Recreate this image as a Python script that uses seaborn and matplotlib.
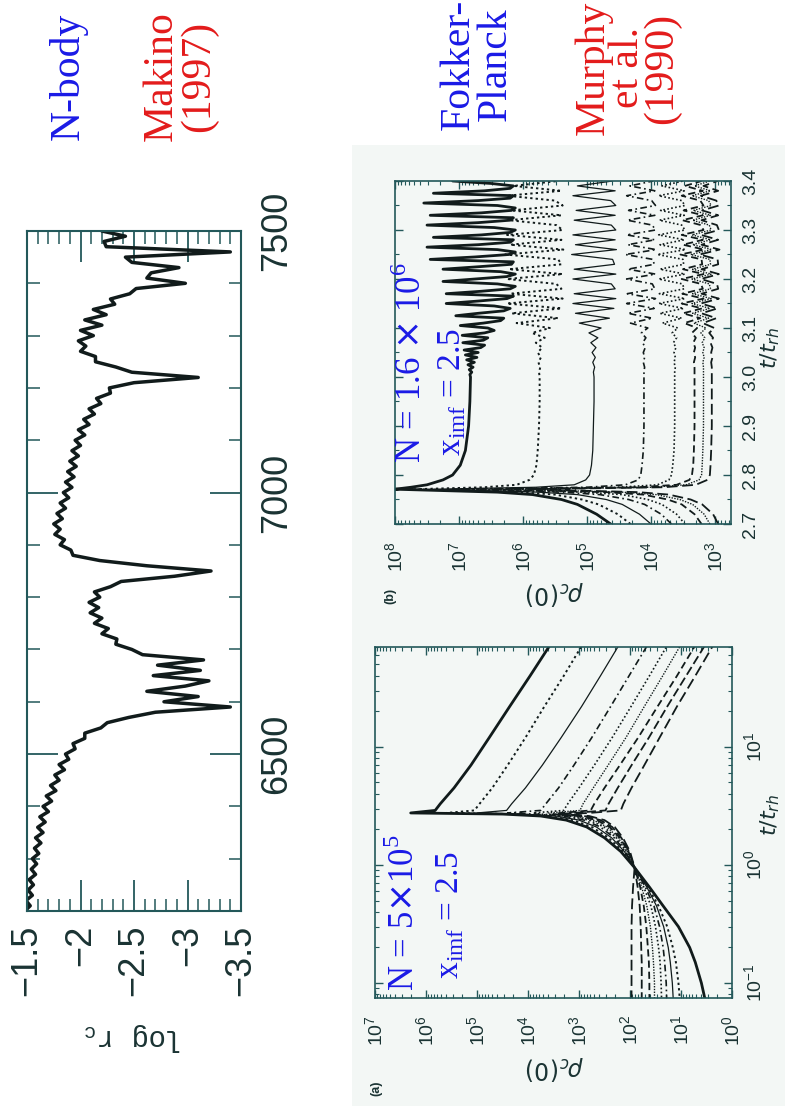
import numpy as np
import matplotlib
matplotlib.use("Agg")
import matplotlib.pyplot as plt
from matplotlib.patches import Rectangle
from matplotlib.ticker import (FixedLocator, FixedFormatter, MultipleLocator,
                               LogLocator, NullFormatter)
import seaborn as sns

# ---------------------------------------------------------------------------
# N-body core radius history (Makino 1997)
# ---------------------------------------------------------------------------
nbody_time = np.arange(6200, 7501, 10)
nbody_log_rc = [
    -1.48, -1.53, -1.49, -1.55, -1.51, -1.56, -1.52, -1.58, -1.54, -1.59,
    -1.55, -1.61, -1.57, -1.63, -1.58, -1.65, -1.60, -1.67, -1.62, -1.70,
    -1.65, -1.73, -1.68, -1.77, -1.72, -1.80, -1.76, -1.85, -1.80, -1.89,
    -1.86, -1.95, -1.93, -2.04, -2.04, -2.19, -2.25, -2.45, -2.70, -3.40,
    -2.78, -3.10, -2.62, -2.98, -3.20, -2.68, -3.12, -2.72, -3.15, -2.58,
    -2.48, -2.33, -2.34, -2.20, -2.26, -2.13, -2.20, -2.09, -2.17, -2.08,
    -2.18, -2.13, -2.28, -2.38, -2.88, -3.22, -2.62, -2.18, -1.93, -1.91,
    -1.81, -1.85, -1.76, -1.81, -1.75, -1.83, -1.78, -1.86, -1.81, -1.89,
    -1.84, -1.92, -1.86, -1.94, -1.88, -1.96, -1.90, -1.98, -1.92, -2.00,
    -1.95, -2.04, -1.98, -2.08, -2.03, -2.13, -2.08, -2.19, -2.15, -2.28,
    -2.27, -2.50, -3.10, -2.48, -2.33, -2.14, -2.14, -2.00, -2.05, -1.98,
    -2.12, -2.00, -2.20, -2.04, -2.24, -2.12, -2.32, -2.28, -2.46, -2.52,
    -2.98, -2.62, -2.66, -2.92, -2.48, -2.42, -3.40, -2.24, -2.22, -2.42,
    -2.20,
]
nbody_rc_ticks = [-1.5, -2.0, -2.5, -3.0, -3.5]
nbody_rc_ticklabels = ["\u22121.5", "\u22122", "\u22122.5", "\u22123", "\u22123.5"]
nbody_time_ticks = [6500, 7000, 7500]

# ---------------------------------------------------------------------------
# Fokker-Planck (a): N = 5e5, central density of each mass group, log10 rho
# ---------------------------------------------------------------------------
fpa_time_pre = [0.07, 0.1, 0.15, 0.2, 0.3, 0.45, 0.65, 0.95, 1.3, 1.7, 2.1, 2.4, 2.6, 2.7]
fpa_rho_pre = [
    [0.52, 0.60, 0.72, 0.83, 1.05, 1.35, 1.62, 1.91, 2.18, 2.50, 2.85, 3.25, 3.75, 4.50],
    [1.02, 1.05, 1.10, 1.16, 1.27, 1.44, 1.65, 1.91, 2.14, 2.42, 2.75, 3.12, 3.60, 4.30],
    [1.15, 1.17, 1.21, 1.25, 1.34, 1.48, 1.67, 1.91, 2.11, 2.36, 2.66, 3.00, 3.45, 4.10],
    [1.28, 1.29, 1.32, 1.35, 1.42, 1.53, 1.70, 1.91, 2.09, 2.31, 2.58, 2.90, 3.30, 3.90],
    [1.38, 1.39, 1.41, 1.44, 1.50, 1.59, 1.73, 1.91, 2.07, 2.27, 2.51, 2.80, 3.20, 3.75],
    [1.52, 1.52, 1.54, 1.56, 1.60, 1.67, 1.77, 1.91, 2.05, 2.23, 2.45, 2.72, 3.10, 3.60],
    [1.62, 1.62, 1.63, 1.65, 1.68, 1.73, 1.80, 1.91, 2.03, 2.20, 2.40, 2.65, 3.00, 3.50],
    [1.77, 1.77, 1.77, 1.78, 1.79, 1.81, 1.85, 1.91, 2.02, 2.17, 2.35, 2.58, 2.90, 3.40],
    [1.97, 1.97, 1.97, 1.97, 1.97, 1.96, 1.94, 1.91, 2.00, 2.14, 2.30, 2.50, 2.80, 3.30],
]
fpa_time_post = [2.76, 2.9, 3.3, 4.5, 7.0, 12.0, 22.0, 40.0, 75.0]
fpa_rho_post = [
    [6.30, 5.82, 5.72, 5.45, 5.12, 4.76, 4.36, 3.96, 3.55],
    [5.60, 5.05, 4.95, 4.70, 4.40, 4.05, 3.68, 3.30, 2.92],
    [5.00, 4.42, 4.32, 4.05, 3.72, 3.35, 2.95, 2.58, 2.20],
    [4.40, 3.75, 3.65, 3.40, 3.10, 2.75, 2.38, 2.02, 1.64],
    [3.90, 3.30, 3.22, 3.00, 2.70, 2.35, 1.98, 1.62, 1.25],
    [3.60, 2.98, 2.92, 2.72, 2.43, 2.08, 1.72, 1.36, 0.99],
    [3.35, 2.77, 2.70, 2.50, 2.20, 1.84, 1.46, 1.08, 0.70],
    [3.10, 2.48, 2.42, 2.24, 1.97, 1.63, 1.27, 0.90, 0.51],
    [2.80, 2.18, 2.13, 1.97, 1.72, 1.42, 1.08, 0.72, 0.35],
]

# ---------------------------------------------------------------------------
# Fokker-Planck (b): N = 1.6e6, gravothermal oscillations, log10 rho
# ---------------------------------------------------------------------------
fpb_time_pre = [2.70, 2.72, 2.74, 2.75, 2.76, 2.765, 2.771]
fpb_rho_pre = [
    [4.63, 4.85, 5.15, 5.40, 5.85, 6.40, 8.00],
    [4.32, 4.52, 4.82, 5.08, 5.50, 6.10, 7.70],
    [4.00, 4.18, 4.45, 4.70, 5.15, 5.75, 7.40],
    [3.68, 3.84, 4.10, 4.35, 4.80, 5.40, 7.10],
    [3.47, 3.60, 3.83, 4.05, 4.45, 5.05, 6.80],
    [3.21, 3.32, 3.52, 3.74, 4.12, 4.70, 6.50],
    [3.08, 3.17, 3.35, 3.55, 3.92, 4.45, 6.20],
    [2.95, 3.03, 3.20, 3.38, 3.72, 4.20, 5.90],
]
fpb_time_relax = [2.775, 2.78, 2.79, 2.80, 2.82, 2.85, 2.90, 2.95]
fpb_rho_relax = [
    [7.75, 7.50, 7.25, 7.10, 6.98, 6.90, 6.85, 6.83],
    [6.60, 6.10, 5.90, 5.83, 5.79, 5.77, 5.75, 5.74],
    [5.80, 5.20, 5.02, 4.96, 4.93, 4.91, 4.90, 4.89],
    [5.00, 4.40, 4.20, 4.16, 4.14, 4.12, 4.11, 4.11],
    [4.50, 3.90, 3.72, 3.68, 3.66, 3.64, 3.63, 3.63],
    [4.20, 3.60, 3.40, 3.36, 3.34, 3.33, 3.32, 3.32],
    [4.00, 3.45, 3.25, 3.21, 3.20, 3.19, 3.18, 3.18],
    [3.80, 3.30, 3.12, 3.08, 3.07, 3.06, 3.05, 3.05],
]
# heaviest group, sampled every 0.005 from 3.000 to 3.400
fpb_time_fine = np.round(np.arange(3.0, 3.4001, 0.005), 3)
fpb_rho_heavy = [
    6.82, 6.83, 6.80, 6.84, 6.78, 6.86, 6.76, 6.88, 6.72, 6.90,
    6.70, 6.92, 6.66, 6.60, 6.94, 6.62, 6.55, 6.95, 6.60, 6.45,
    6.55, 6.98, 6.62, 6.35, 6.30, 7.05, 6.70, 6.30, 6.20, 6.45,
    7.20, 6.70, 6.25, 6.15, 7.20, 6.65, 6.20, 6.12, 6.40, 7.25,
    6.75, 6.25, 6.12, 6.35, 7.25, 6.70, 6.18, 6.15, 7.45, 6.75,
    6.22, 6.12, 6.40, 7.50, 6.70, 6.20, 6.15, 7.40, 6.65, 6.20,
    6.12, 6.45, 7.50, 6.70, 6.20, 6.15, 7.45, 6.65, 6.18, 6.12,
    6.40, 7.55, 6.70, 6.20, 6.15, 7.40, 6.60, 6.20, 6.15, 6.50,
    7.10,
]
# lighter groups, sampled every 0.01 from 3.00 to 3.40
fpb_time_coarse = np.round(np.arange(3.0, 3.4001, 0.01), 2)
fpb_rho_light = [
    [5.74, 5.75, 5.73, 5.76, 5.72, 5.77, 5.70, 5.80, 5.66, 5.86, 5.58, 6.10, 5.45, 6.18,
     5.40, 6.25, 5.38, 6.20, 5.40, 5.48, 6.25, 5.38, 6.22, 5.40, 5.45, 6.28, 5.37, 6.20,
     5.40, 6.25, 5.38, 5.48, 6.22, 5.40, 6.18, 5.38, 5.50, 6.25, 5.40, 6.15, 5.45],
    [4.89, 4.90, 4.88, 4.91, 4.87, 4.92, 4.86, 4.94, 4.83, 4.97, 4.78, 5.12, 4.65, 5.18,
     4.58, 5.22, 4.55, 5.20, 4.56, 4.62, 5.22, 4.55, 5.20, 4.57, 4.60, 5.24, 4.54, 5.18,
     4.56, 5.22, 4.55, 4.62, 5.20, 4.56, 5.17, 4.55, 4.63, 5.22, 4.56, 5.15, 4.60],
    [4.11, 4.11, 4.10, 4.12, 4.10, 4.12, 4.09, 4.13, 4.08, 4.15, 4.05, 4.32, 3.98, 4.36,
     3.95, 4.38, 3.93, 4.37, 3.94, 3.98, 4.38, 3.93, 4.36, 3.95, 3.97, 4.40, 3.92, 4.36,
     3.94, 4.38, 3.93, 3.98, 4.37, 3.94, 4.35, 3.93, 3.99, 4.38, 3.94, 4.33, 3.97],
    [3.63, 3.63, 3.62, 3.64, 3.62, 3.64, 3.61, 3.65, 3.60, 3.67, 3.58, 3.82, 3.52, 3.86,
     3.49, 3.88, 3.47, 3.87, 3.48, 3.51, 3.88, 3.47, 3.86, 3.49, 3.50, 3.90, 3.46, 3.86,
     3.48, 3.88, 3.47, 3.52, 3.87, 3.48, 3.85, 3.47, 3.52, 3.88, 3.48, 3.83, 3.50],
    [3.32, 3.32, 3.32, 3.33, 3.31, 3.33, 3.31, 3.34, 3.30, 3.36, 3.28, 3.48, 3.23, 3.50,
     3.20, 3.52, 3.18, 3.51, 3.19, 3.22, 3.52, 3.18, 3.50, 3.20, 3.21, 3.54, 3.17, 3.50,
     3.19, 3.52, 3.18, 3.22, 3.51, 3.19, 3.49, 3.18, 3.23, 3.52, 3.19, 3.47, 3.21],
    [3.18, 3.18, 3.18, 3.19, 3.17, 3.19, 3.17, 3.20, 3.16, 3.22, 3.14, 3.33, 3.10, 3.35,
     3.08, 3.36, 3.06, 3.35, 3.07, 3.09, 3.36, 3.06, 3.35, 3.07, 3.08, 3.38, 3.05, 3.35,
     3.07, 3.36, 3.06, 3.09, 3.35, 3.07, 3.34, 3.06, 3.10, 3.36, 3.07, 3.32, 3.08],
    [3.05, 3.05, 3.05, 3.06, 3.04, 3.06, 3.04, 3.07, 3.03, 3.09, 3.01, 3.19, 2.98, 3.21,
     2.96, 3.22, 2.94, 3.21, 2.95, 2.97, 3.22, 2.94, 3.21, 2.95, 2.96, 3.24, 2.93, 3.21,
     2.95, 3.22, 2.94, 2.97, 3.21, 2.95, 3.20, 2.94, 2.98, 3.22, 2.95, 3.18, 2.96],
]
fpb_time_ticks = [2.7, 2.8, 2.9, 3.0, 3.1, 3.2, 3.3, 3.4]
fpb_time_ticklabels = ["2.7", "2.8", "2.9", "3.0", "3.1", "3.2", "3.3", "3.4"]

# ---------------------------------------------------------------------------
# styling
# ---------------------------------------------------------------------------
sns.set_theme(style="ticks")
plt.rcParams["font.family"] = ["Liberation Sans", "DejaVu Sans"]
SERIF = "Liberation Serif"
MONO = "Liberation Mono"
INK = "#111b1b"
FRAME = "#23585a"
LABEL = "#1a3333"
PAPER = "#f3f7f5"
BLUE = "#1a1ae6"
RED = "#e31b1b"

group_styles = [
    dict(lw=2.0, ls="-"),
    dict(lw=1.4, ls=(0, (1.2, 1.6))),
    dict(lw=0.9, ls="-"),
    dict(lw=1.2, ls=(0, (4, 2, 1, 2))),
    dict(lw=1.2, ls=(0, (1, 1.4))),
    dict(lw=1.0, ls=(0, (1, 1))),
    dict(lw=1.3, ls=(0, (4, 2.2))),
    dict(lw=1.3, ls=(0, (5, 2))),
    dict(lw=1.3, ls=(0, (6, 2.5))),
]

W, H = 785, 1106
fig = plt.figure(figsize=(W / 100, H / 100), dpi=100)


def fxy(x, y):
    return x / W, 1 - y / H


def place(x0, y0, x1, y1):
    return fig.add_axes([x0 / W, 1 - y1 / H, (x1 - x0) / W, (y1 - y0) / H])


def frame(ax, lw):
    for s in ax.spines.values():
        s.set_visible(True)
        s.set_color(FRAME)
        s.set_linewidth(lw)
    ax.tick_params(which="both", direction="in", top=True, bottom=True,
                   left=True, right=True, labelleft=False, labelright=True,
                   labelbottom=True, labeltop=False, color=FRAME,
                   labelcolor=LABEL)
    ax.set_xlabel("")
    ax.set_ylabel("")


def trace(ax, x, y, style):
    sns.lineplot(x=x, y=y, sort=False, estimator=None, ax=ax, color=INK,
                 legend=False, **style)


# tinted panel area on the right
fig.add_artist(Rectangle(fxy(352, H), (W - 352) / W, (H - 145) / H,
                         transform=fig.transFigure, facecolor=PAPER,
                         edgecolor="none", zorder=-5))

# ---------------- N-body panel ----------------
ax0 = place(27, 231, 241, 911)
trace(ax0, nbody_log_rc, nbody_time, dict(lw=2.5, ls="-"))
ax0.set_xlim(-1.5, -3.5)
ax0.set_ylim(6200, 7500)
ax0.xaxis.set_major_locator(FixedLocator(nbody_rc_ticks))
ax0.xaxis.set_major_formatter(FixedFormatter(nbody_rc_ticklabels))
ax0.xaxis.set_minor_locator(MultipleLocator(0.1))
ax0.yaxis.set_major_locator(FixedLocator(nbody_time_ticks))
ax0.yaxis.set_minor_locator(MultipleLocator(100))
frame(ax0, 1.5)
ax0.tick_params(which="major", length=22, width=1.3)
ax0.tick_params(which="minor", length=9, width=1.1)
ax0.tick_params(axis="x", labelrotation=90, labelsize=26, pad=10)
ax0.tick_params(axis="y", labelrotation=90, labelsize=26, pad=13)
plt.setp(ax0.get_yticklabels(), va="center")
fig.text(*fxy(134, 1037), r"log r$_\mathregular{c}$", rotation=180,
         fontfamily=MONO, fontsize=21, color=LABEL, ha="center", va="center")

# ---------------- Fokker-Planck (a) ----------------
axa = place(375, 647, 732, 998)
axa.set_facecolor(PAPER)
axa.set_xscale("log")
axa.set_yscale("log")
for k in range(len(fpa_rho_pre)):
    t = np.concatenate([fpa_time_pre, fpa_time_post])
    r = 10 ** np.concatenate([fpa_rho_pre[k], fpa_rho_post[k]])
    trace(axa, r, t, group_styles[k])
axa.set_xlim(1e7, 1e0)
axa.set_ylim(10 ** -1.127, 10 ** 1.847)

# ---------------- Fokker-Planck (b) ----------------
axb = place(395, 181, 731, 524)
axb.set_facecolor(PAPER)
axb.set_xscale("log")
heavy_t = np.concatenate([fpb_time_pre, fpb_time_relax, fpb_time_fine])
heavy_r = 10 ** np.concatenate([fpb_rho_pre[0], fpb_rho_relax[0], fpb_rho_heavy])
trace(axb, heavy_r, heavy_t, group_styles[0])
light_styles = [group_styles[1], group_styles[2], group_styles[3], group_styles[4],
                group_styles[6], group_styles[5], group_styles[8]]
for k in range(1, len(fpb_rho_pre)):
    t = np.concatenate([fpb_time_pre, fpb_time_relax, fpb_time_coarse])
    r = 10 ** np.concatenate([fpb_rho_pre[k], fpb_rho_relax[k], fpb_rho_light[k - 1]])
    trace(axb, r, t, light_styles[k - 1])
axb.set_xlim(10 ** 8.0, 10 ** 2.75)
axb.set_ylim(2.7, 3.4)
axb.yaxis.set_major_locator(FixedLocator(fpb_time_ticks))
axb.yaxis.set_major_formatter(FixedFormatter(fpb_time_ticklabels))
axb.yaxis.set_minor_locator(MultipleLocator(0.05))

for ax in (axa, axb):
    frame(ax, 1.2)
    ax.xaxis.set_major_locator(LogLocator(base=10, numticks=20))
    ax.xaxis.set_minor_locator(LogLocator(base=10, subs=np.arange(2, 10), numticks=20))
    ax.xaxis.set_minor_formatter(NullFormatter())
    ax.tick_params(which="major", length=6, width=1.0)
    ax.tick_params(which="minor", length=3, width=0.8)
    ax.tick_params(axis="x", labelrotation=90, labelsize=14, pad=12)
    ax.tick_params(axis="y", labelrotation=90, labelsize=14, pad=8)
axa.yaxis.set_minor_formatter(NullFormatter())
plt.setp(axa.get_yticklabels(), va="center")
plt.setp(axb.get_yticklabels(), va="center")

# axis titles of the Fokker-Planck panels
for yy in (1068, 593):
    fig.text(*fxy(555, yy), r"$\rho_c(0)$", rotation=180, fontsize=17,
             color=LABEL, ha="center", va="center")
for yy in (815, 348):
    fig.text(*fxy(770, yy), r"$t/t_{rh}$", rotation=90, fontsize=16,
             color=LABEL, ha="center", va="center")
fig.text(*fxy(376, 1088), "(a)", rotation=90, fontsize=9, fontweight="bold",
         color=LABEL, ha="center", va="center")
fig.text(*fxy(390, 596), "(b)", rotation=90, fontsize=9, fontweight="bold",
         color=LABEL, ha="center", va="center")

# model annotations
fig.text(*fxy(405, 913), r"N = 5$\times$10$^{\mathregular{5}}$", rotation=90,
         fontfamily=SERIF, fontsize=25, color=BLUE, ha="center", va="center")
fig.text(*fxy(450, 915), r"x$_{\mathregular{imf}}$ = 2.5", rotation=90,
         fontfamily=SERIF, fontsize=24, color=BLUE, ha="center", va="center")
fig.text(*fxy(412, 363), r"N = 1.6 $\times$ 10$^{\mathregular{6}}$", rotation=90,
         fontfamily=SERIF, fontsize=25, color=BLUE, ha="center", va="center")
fig.text(*fxy(452, 392), r"x$_{\mathregular{imf}}$ = 2.5", rotation=90,
         fontfamily=SERIF, fontsize=24, color=BLUE, ha="center", va="center")

# method / reference captions
fig.text(*fxy(68, 76), "N-body", rotation=90, fontfamily=SERIF, fontsize=30,
         color=BLUE, ha="center", va="center")
fig.text(*fxy(180, 76), "Makino\n(1997)", rotation=90, fontfamily=SERIF,
         fontsize=30, color=RED, ha="center", va="center",
         multialignment="center", linespacing=0.95)
fig.text(*fxy(477, 64), "Fokker-\nPlanck", rotation=90, fontfamily=SERIF,
         fontsize=30, color=BLUE, ha="center", va="center",
         multialignment="center", linespacing=0.95)
fig.text(*fxy(628, 68), "Murphy\net al.\n(1990)", rotation=90, fontfamily=SERIF,
         fontsize=30, color=RED, ha="center", va="center",
         multialignment="center", linespacing=0.85)

fig.savefig("out.png", dpi=100)
